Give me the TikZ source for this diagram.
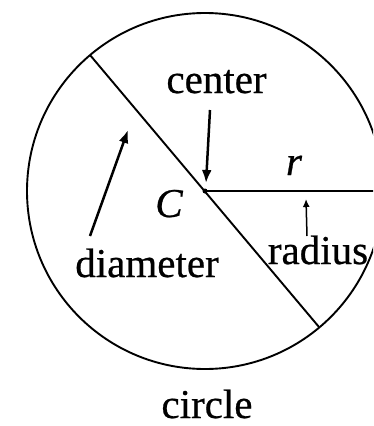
\documentclass[tikz,border=0pt]{standalone}
\usepackage{fontspec}
\setmainfont[FakeBold=0.6,AutoFakeBold=0.6]{Liberation Serif}
\usetikzlibrary{arrows.meta}
\begin{document}
\begin{tikzpicture}[x=1pt,y=-1pt,
  geo/.style={line width=1.9pt},
  lbl/.style={anchor=base,inner sep=0pt,font=\fontsize{41}{41}\selectfont\bfseries},
  bigarrow/.style={line width=2.5pt,-{Latex[length=13pt,width=10pt]}},
  smallarrow/.style={line width=1.5pt,-{Latex[length=8pt,width=7pt]}}]
\useasboundingbox (0,0) rectangle (373,426);
\clip (0,0) rectangle (373,426);
\coordinate (O) at (205,191);
\coordinate (D1) at (90,55);
\coordinate (D2) at (319,327);
\coordinate (R) at (380,191);
\draw[geo] (O) circle[radius=178pt];
\draw[geo] (D1) -- (D2);
\draw[geo] (O) -- (R);
\fill (O) circle[radius=2.5pt];
\node[lbl] (lcenter) at (216.5,93) {center};
\node[lbl] (ldiam) at (147,277) {diameter};
\node[lbl] (lrad) at (318,264) {radius};
\node[lbl] (lcircle) at (207,418) {circle};
\node[lbl] (lC) at (169,217) {\itshape C};
\node[lbl] (lr) at (294,175) {\itshape r};
\coordinate (a1s) at (210,110);
\coordinate (a1e) at (206,183);
\coordinate (a2s) at (90,236);
\coordinate (a2e) at (128,130);
\coordinate (a3s) at (307,236);
\coordinate (a3e) at (306,199);
\draw[bigarrow] (a1s) -- (a1e);
\draw[bigarrow] (a2s) -- (a2e);
\draw[smallarrow] (a3s) -- (a3e);
\end{tikzpicture}
\end{document}
